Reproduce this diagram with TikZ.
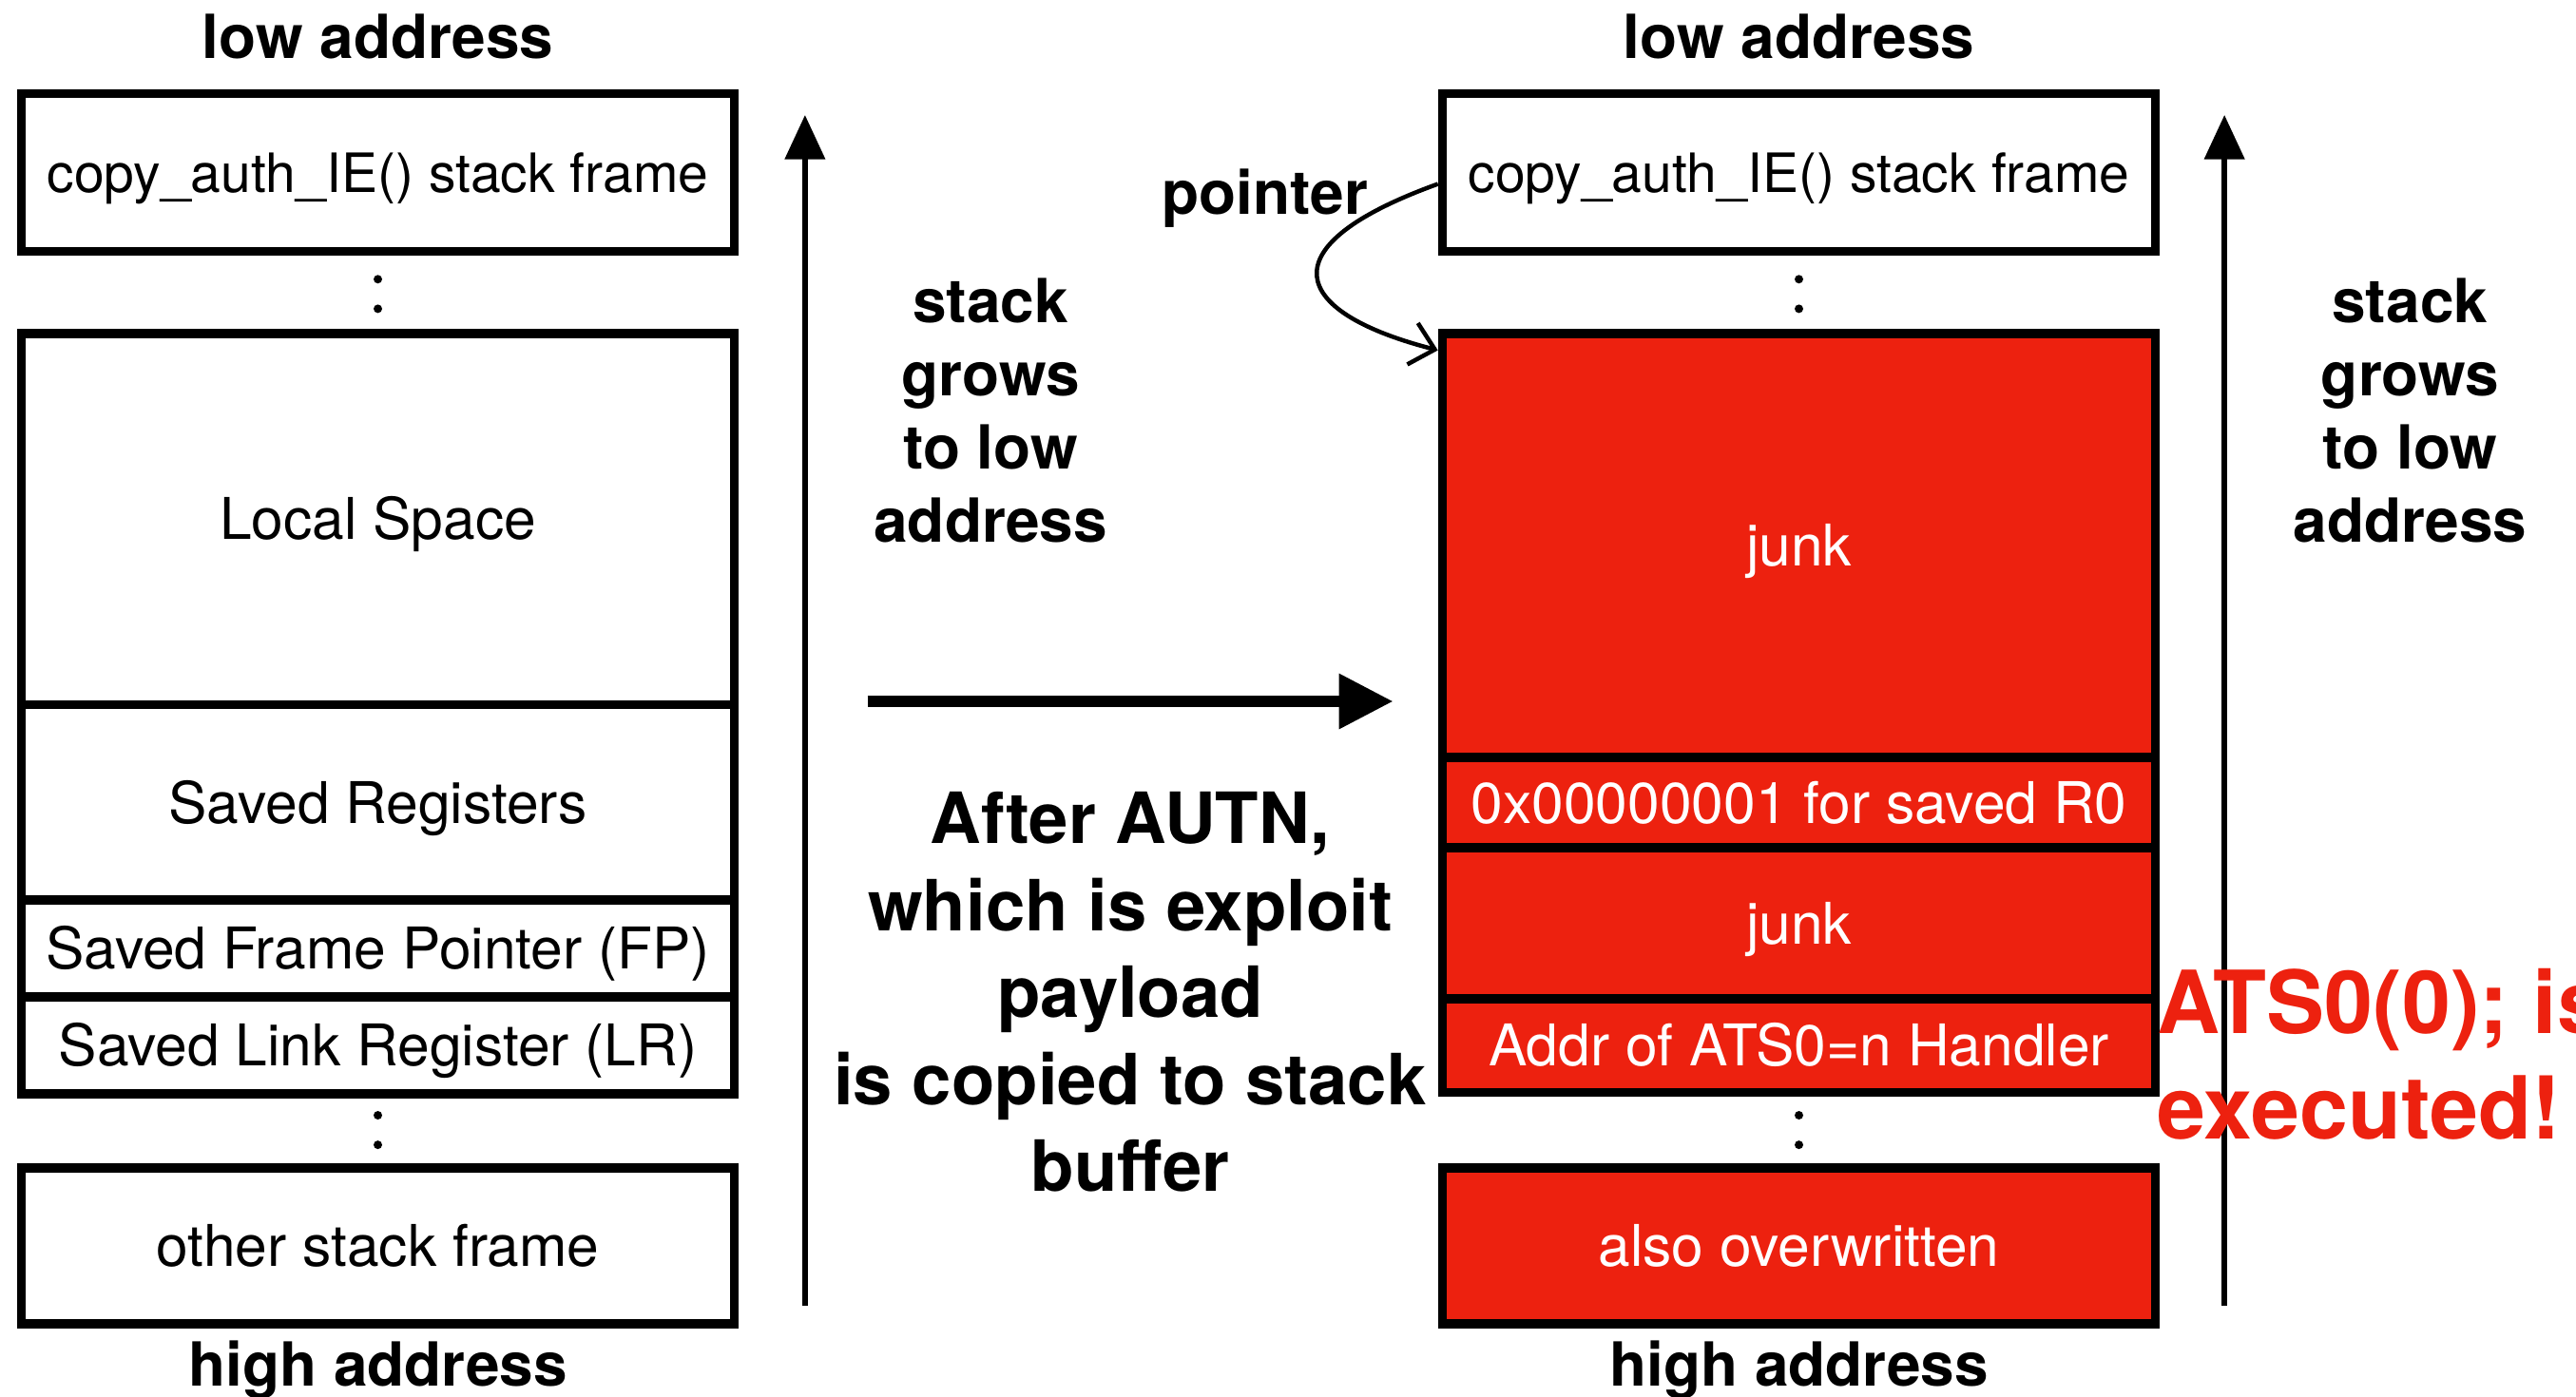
\documentclass[tikz,border=0pt]{standalone}
\usepackage{fontspec}
\setmainfont{TeX Gyre Heros}
\usetikzlibrary{arrows.meta}
\definecolor{hit}{RGB}{237,33,15}

\tikzset{
  cell/.style={draw=black, line width=5.5pt, fill=white, inner sep=0pt,
    minimum width=434pt, font=\fontsize{35}{42}\selectfont,
    text height=27.5pt, text depth=2.3pt},
  narrowtext/.style={font=\fontsize{33}{40}\selectfont, text height=26pt, text depth=2.2pt},
  hot/.style={cell, fill=hit, text=white},
  heading/.style={inner sep=0pt, font=\fontsize{37}{44.7}\selectfont\bfseries, align=center},
  upgrow/.style={line width=3.5pt, -{Triangle[length=27pt,width=24pt]}},
  blob/.style={fill=black}
}

\begin{document}
\begin{tikzpicture}[x=1pt,y=-1pt]
\useasboundingbox (0,0) rectangle (1568,850);

% ---------- original stack layout ----------
\node[heading] (lowL) at (230,22) {low address};
\node[cell, narrowtext, minimum height=96pt] (copyL) at (230,105) {copy\_auth\_IE() stack frame};
\fill[blob] (230,170) circle (2.6pt) (230,188) circle (2.6pt);
\node[cell, minimum height=226pt] (local)  at (230,316)   {Local Space};
\node[cell, minimum height=119pt] (sregs)  at (230,488.5) {Saved Registers};
\node[cell, minimum height=59pt]  (sfp)    at (230,577.5) {Saved Frame Pointer (FP)};
\node[cell, minimum height=59pt]  (slr)    at (230,636.5) {Saved Link Register (LR)};
\fill[blob] (230,679) circle (2.6pt) (230,697) circle (2.6pt);
\node[cell, minimum height=95pt]  (otherL) at (230,758.5) {other stack frame};
\node[heading] (highL) at (230,834) {high address};

\coordinate (gL0) at (490,795);
\coordinate (gL1) at (490,70);
\draw[upgrow] (gL0) -- (gL1);
\node[heading] (growL) at (603,250) {stack\\grows\\to low\\address};

% ---------- transition ----------
\coordinate (cp0) at (528,427);
\coordinate (cp1) at (848,427);
\draw[line width=7pt, -{Triangle[length=33pt,width=32pt]}] (cp0) -- (cp1);
\node[heading, font=\fontsize{43}{53}\selectfont\bfseries] (after) at (688,604)
  {After AUTN,\\which is exploit\\payload\\is copied to stack\\buffer};

% ---------- overwritten stack layout ----------
\node[heading] (lowR) at (1095,22) {low address};
\node[cell, narrowtext, minimum height=96pt] (copyR) at (1095,105) {copy\_auth\_IE() stack frame};
\fill[blob] (1095,170) circle (2.6pt) (1095,188) circle (2.6pt);
\node[hot, minimum height=258pt]  (junkA)  at (1095,332)   {junk};
\node[hot, minimum height=55pt]   (rzero)  at (1095,488.5) {0x00000001 for saved R0};
\node[hot, minimum height=92pt]   (junkB)  at (1095,562)   {junk};
\node[hot, minimum height=57pt]   (handler) at (1095,636.5) {Addr of ATS0=n Handler};
\fill[blob] (1095,679) circle (2.6pt) (1095,697) circle (2.6pt);
\node[hot, minimum height=95pt]   (otherR) at (1095,758.5) {also overwritten};
\node[heading] (highR) at (1095,834) {high address};

\node[heading] (ptr) at (770,121) {pointer};
\coordinate (pt0) at ([yshift=-7pt]copyR.west);
\coordinate (pt1) at ([yshift=-13pt]junkA.north west);
\draw[line width=2.6pt, -{Straight Barb[length=14pt,width=26pt]}]
  (pt0) .. controls (770,150) and (785,190) .. (pt1);

\coordinate (gR0) at (1354,795);
\coordinate (gR1) at (1354,70);
\draw[upgrow] (gR0) -- (gR1);
\node[heading] (growR) at (1467,250) {stack\\grows\\to low\\address};

\node[heading, anchor=west, align=left, text=hit,
  font=\fontsize{53}{64}\selectfont\bfseries] (exec) at (1313,642)
  {ATS0(0); is\\executed!};
\end{tikzpicture}
\end{document}
